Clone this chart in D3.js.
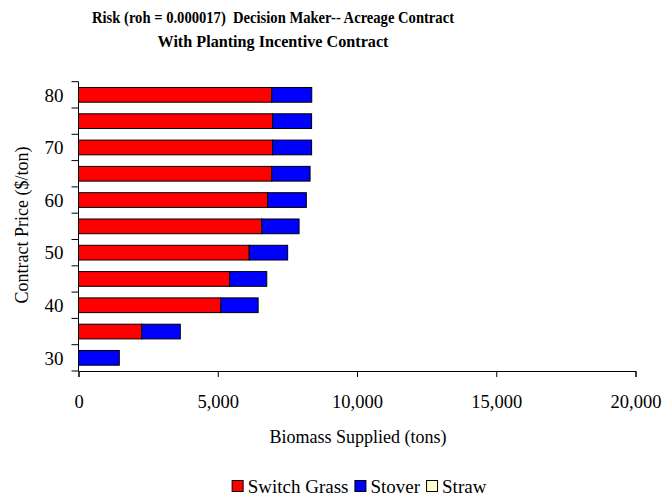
<!DOCTYPE html>
<html>
<head>
<meta charset="utf-8">
<script src="https://cdn.jsdelivr.net/npm/d3@7"></script>
<style>
  html, body { margin: 0; padding: 0; background: #fff; }
  svg { display: block; font-family: "Liberation Serif", "Times New Roman", serif; }
</style>
</head>
<body>
<svg id="chart" width="667" height="497"></svg>
<script>
// Contract price levels ($/ton), bottom to top
const prices = [30, 35, 40, 45, 50, 55, 60, 65, 70, 75, 80];
// Biomass supplied (tons) at each contract price
const switchGrass = [0, 2270, 5110, 5430, 6130, 6580, 6790, 6940, 6970, 6970, 6940];
const stover      = [1465, 1385, 1340, 1330, 1380, 1340, 1390, 1375, 1400, 1400, 1435];
const straw       = [0, 0, 0, 0, 0, 0, 0, 0, 0, 0, 0];
const seriesNames = ["Switch Grass", "Stover", "Straw"];
const seriesColors = ["#ff0000", "#0000ff", "#ffffcc"];
const xTicks = [0, 5000, 10000, 15000, 20000];
const yLabels = [30, 40, 50, 60, 70, 80];

const svg = d3.select("#chart");
const plotLeft = 78.5, plotRight = 635.5, plotTop = 81.7, plotBottom = 371;

const rows = prices.map((p, i) => ({
  price: p,
  "Switch Grass": switchGrass[i],
  "Stover": stover[i],
  "Straw": straw[i]
}));
const stacked = d3.stack().keys(seriesNames)(rows);

const x = d3.scaleLinear().domain([0, 20000]).range([plotLeft, plotRight]);
const y = d3.scaleBand()
  .domain(prices.slice().reverse())
  .range([plotTop, plotBottom])
  .paddingInner(0.44)
  .paddingOuter(0.22);

// Title (two centred bold lines, narrow face)
const title = svg.append("g")
  .attr("font-weight", "bold")
  .attr("font-size", 16.5)
  .attr("text-anchor", "middle");
title.append("text").attr("x", 273).attr("y", 23)
  .attr("textLength", 362).attr("lengthAdjust", "spacingAndGlyphs")
  .text("Risk (roh = 0.000017)\u00a0 Decision Maker-- Acreage Contract");
title.append("text").attr("x", 273).attr("y", 47)
  .attr("textLength", 231).attr("lengthAdjust", "spacingAndGlyphs")
  .text("With Planting Incentive Contract");

// Stacked bars
svg.append("g").selectAll("g")
  .data(stacked)
  .join("g")
  .attr("fill", (d, i) => seriesColors[i])
  .selectAll("rect")
  .data(d => d.filter(s => s[1] - s[0] > 0))
  .join("rect")
  .attr("x", d => x(d[0]))
  .attr("y", d => y(d.data.price))
  .attr("width", d => x(d[1]) - x(d[0]))
  .attr("height", y.bandwidth())
  .attr("stroke", "#000")
  .attr("stroke-width", 1);

// X axis
const xAxis = svg.append("g")
  .attr("transform", `translate(0,${plotBottom})`)
  .call(d3.axisBottom(x).tickValues(xTicks).tickFormat(d3.format(",")).tickSize(6).tickPadding(18));
xAxis.selectAll("text").attr("font-size", 18.5).attr("font-family", "Liberation Serif").attr("fill", "#000");
xAxis.selectAll("path, line").attr("stroke", "#000");

// Y axis: line with ticks at category boundaries, labels on every other category
const yAxis = svg.append("g");
yAxis.append("line")
  .attr("x1", plotLeft).attr("x2", plotLeft)
  .attr("y1", plotTop).attr("y2", plotBottom)
  .attr("stroke", "#000");
const step = y.step();
const boundaries = d3.range(prices.length + 1).map(i => plotTop + i * step);
yAxis.selectAll("line.tick")
  .data(boundaries)
  .join("line")
  .attr("class", "tick")
  .attr("x1", plotLeft - 7).attr("x2", plotLeft)
  .attr("y1", d => d).attr("y2", d => d)
  .attr("stroke", "#000");
yAxis.selectAll("text")
  .data(yLabels)
  .join("text")
  .attr("x", plotLeft - 15)
  .attr("y", d => y(d) + y.bandwidth() / 2)
  .attr("dy", "0.35em")
  .attr("text-anchor", "end")
  .attr("font-size", 19)
  .text(d => d);

// Axis titles
svg.append("text")
  .attr("x", 358).attr("y", 443)
  .attr("text-anchor", "middle")
  .attr("font-size", 18)
  .text("Biomass Supplied (tons)");
svg.append("text")
  .attr("transform", "translate(28,225) rotate(-90)")
  .attr("text-anchor", "middle")
  .attr("font-size", 18)
  .text("Contract Price ($/ton)");

// Legend, laid out from measured text widths and centred
const legend = svg.append("g");
let cursor = 0;
seriesNames.forEach((name, i) => {
  const g = legend.append("g").attr("transform", `translate(${cursor},0)`);
  g.append("rect").attr("x", 0.5).attr("y", -12.5).attr("width", 11).attr("height", 11)
    .attr("fill", seriesColors[i]).attr("stroke", "#000");
  const t = g.append("text").attr("x", 16).attr("y", 0)
    .attr("font-size", 19).text(name);
  cursor += 16 + t.node().getComputedTextLength() + 6;
});
const legendWidth = cursor - 6;
legend.attr("transform", `translate(${359 - legendWidth / 2},493)`);
</script>
</body>
</html>
